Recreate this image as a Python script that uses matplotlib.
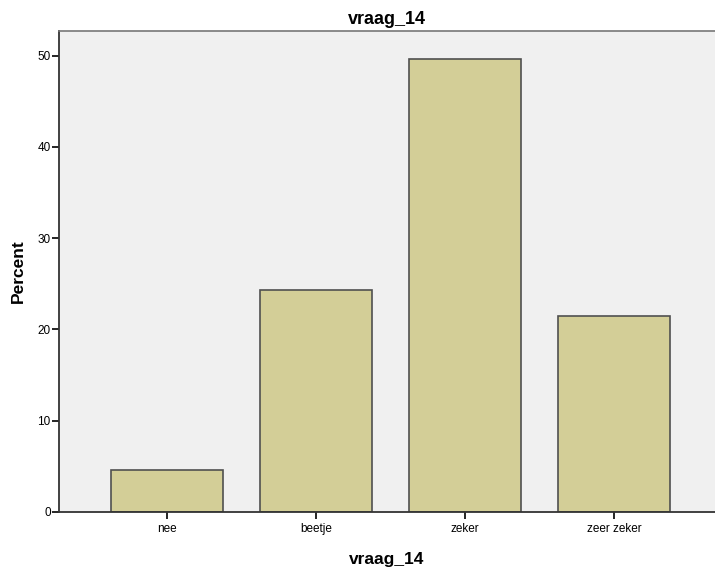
import matplotlib.pyplot as plt

# data
categories = ['nee', 'beetje', 'zeker', 'zeer zeker']
percent = [4.6, 24.3, 49.6, 21.5]
y_ticks = [0, 10, 20, 30, 40, 50]

plt.rcParams['font.family'] = ['Liberation Sans', 'DejaVu Sans']

fig = plt.figure(figsize=(7.15, 5.7), dpi=100)
ax = fig.add_axes([59 / 715, 58 / 570, 656 / 715, 481 / 570])
ax.set_facecolor('#f0f0f0')

x = range(len(categories))
ax.bar(x, percent, width=0.75, color='#d3ce97', edgecolor='#505050', linewidth=1.2)

ax.set_xlim(-0.725, 3.678)
ax.set_ylim(0, 52.7)
ax.set_xticks(list(x))
ax.set_xticklabels(categories, fontsize=8.5)
ax.set_yticks(y_ticks)
ax.tick_params(axis='y', labelsize=8.5, length=5, width=1.2, pad=1)
ax.tick_params(axis='x', length=5, width=1.2, pad=3)

for side in ['left', 'bottom']:
    ax.spines[side].set_color('#333333')
    ax.spines[side].set_linewidth(1.3)
ax.spines['top'].set_color('#777777')
ax.spines['top'].set_linewidth(1.2)
ax.spines['right'].set_visible(False)

ax.set_title('vraag_14', fontsize=13, fontweight='bold', pad=5)
ax.set_xlabel('vraag_14', fontsize=12.5, fontweight='bold', labelpad=12)
ax.set_ylabel('Percent', fontsize=12.5, fontweight='bold', labelpad=8)

fig.savefig('out.png', dpi=100)
